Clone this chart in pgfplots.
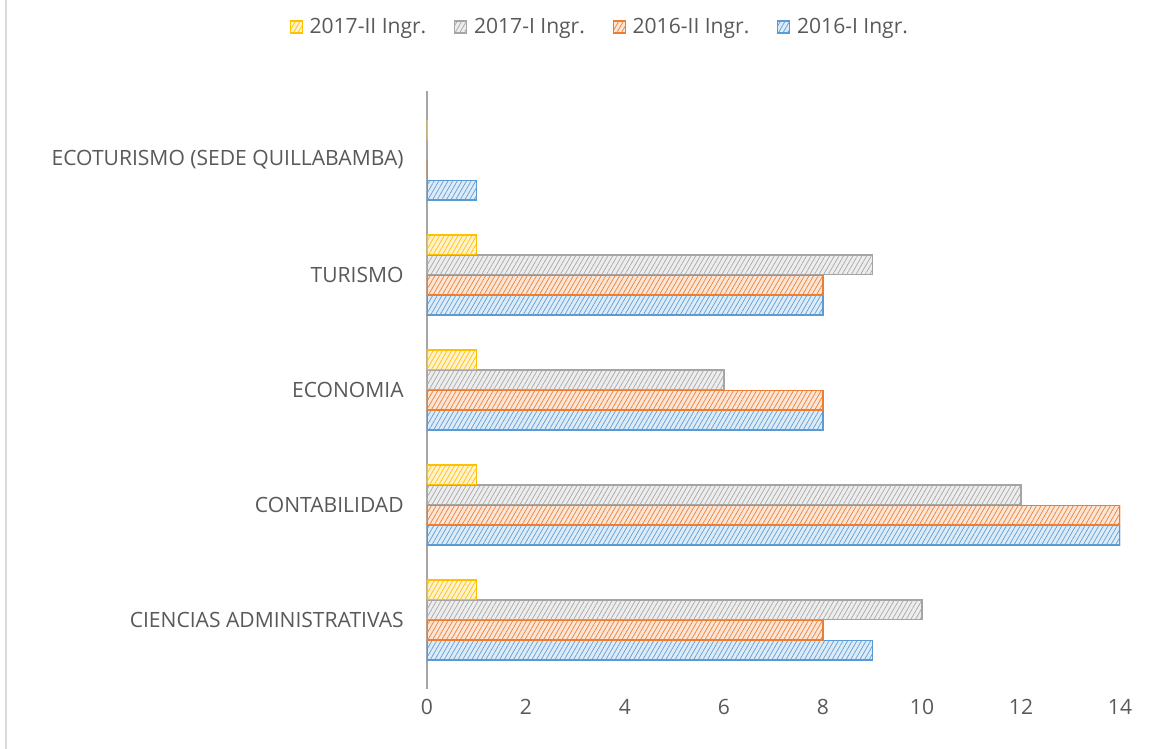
\documentclass[border=0pt]{standalone}
\usepackage{pgfplots}
\pgfplotsset{compat=1.18}
\usepackage{fontspec}
\setmainfont{Open Sans}
\usetikzlibrary{patterns.meta}
\definecolor{txt}{HTML}{595959}
\definecolor{cblue}{HTML}{5B9BD5}
\definecolor{fblue}{HTML}{DDEBF7}
\definecolor{corange}{HTML}{ED7D31}
\definecolor{forange}{HTML}{FBE5D6}
\definecolor{cgray}{HTML}{A5A5A5}
\definecolor{fgray}{HTML}{EDEDED}
\definecolor{cgold}{HTML}{FFC000}
\definecolor{fgold}{HTML}{FFF2CC}
\pgfplotstableread{
y a b c d
0 9 8 10 1
1 14 14 12 1
2 8 8 6 1
3 8 8 9 1
4 1 0 0 0
}\data
\begin{document}
\begin{tikzpicture}[x=1pt,y=1pt]
\useasboundingbox (0,0) rectangle (879,561.75);
\draw[color=black!15, line width=1.2pt] (4.5,0) -- (4.5,561.75);
\begin{axis}[
  at={(320.25pt,45pt)}, anchor=south west,
  scale only axis, width=519.75pt, height=448.5pt,
  xmin=0, xmax=14, ymin=-0.6, ymax=4.6,
  xbar, bar width=0.17,
  xtick={0,2,...,14},
  ytick={0,1,2,3,4},
  yticklabels={CIENCIAS ADMINISTRATIVAS,CONTABILIDAD,ECONOMIA,TURISMO,ECOTURISMO (SEDE QUILLABAMBA)},
  major tick length=0pt,
  axis x line*=bottom, axis y line*=left,
  x axis line style={draw=none},
  y axis line style={draw=cgray, line width=0.9pt},
  ticklabel style={font=\fontsize{15.8}{18}\selectfont, text=txt},
  /pgf/number format/assume math mode=true,
  xticklabel style={yshift=-4pt},
  yticklabel style={xshift=-14pt},
  legend style={at={(0.25,1.107)}, anchor=center, draw=none, legend columns=4,
    font=\fontsize{15.8}{18}\selectfont, text=txt,
    /tikz/every odd column/.append style={column sep=3pt},
    /tikz/every even column/.append style={column sep=19pt}},
  legend cell align=left,
  reverse legend,
  legend image code/.code={\draw[#1, line width=0.8pt] (0pt,-4.5pt) rectangle (9pt,4.5pt);},
]
\addplot[draw=cblue, line width=1pt, fill=fblue, bar shift=-0.2625,
  postaction={pattern={Lines[angle=60,distance=3pt,line width=0.5pt]}, pattern color=cblue}]
  table[x=a,y=y]{\data};
\addplot[draw=corange, line width=1pt, fill=forange, bar shift=-0.0875,
  postaction={pattern={Lines[angle=60,distance=3pt,line width=0.5pt]}, pattern color=corange}]
  table[x=b,y=y]{\data};
\addplot[draw=cgray, line width=1pt, fill=fgray, bar shift=0.0875,
  postaction={pattern={Lines[angle=60,distance=3pt,line width=0.5pt]}, pattern color=cgray}]
  table[x=c,y=y]{\data};
\addplot[draw=cgold, line width=1pt, fill=fgold, bar shift=0.2625,
  postaction={pattern={Lines[angle=60,distance=3pt,line width=0.5pt]}, pattern color=cgold}]
  table[x=d,y=y]{\data};
\legend{2016-I Ingr.,2016-II Ingr.,2017-I Ingr.,2017-II Ingr.}
\end{axis}
\end{tikzpicture}
\end{document}
